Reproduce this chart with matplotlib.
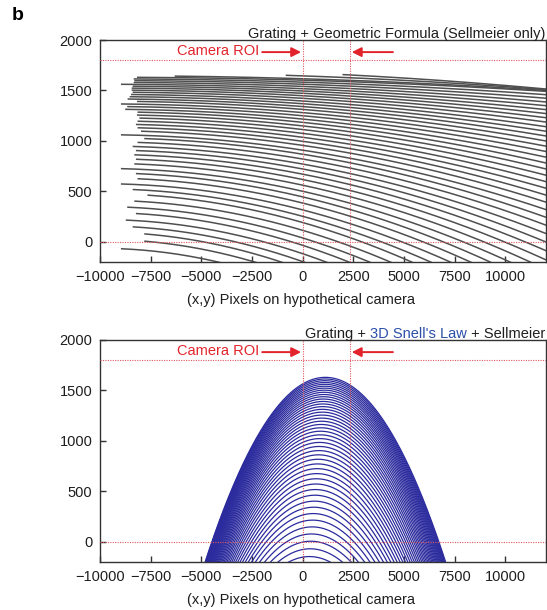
import numpy as np
import matplotlib.pyplot as plt
from matplotlib.offsetbox import TextArea, HPacker, AnchoredOffsetbox

plt.rcParams['font.family'] = ['Liberation Sans', 'DejaVu Sans']
plt.rcParams['font.size'] = 10.5

# top panel: each line starts at (start_x, levels) and ends at x=12000 at end_y
levels = [1630, 1614, 1597, 1579, 1561, 1542, 1523, 1503, 1482, 1460,
          1438, 1415, 1391, 1366, 1340, 1313, 1285, 1256, 1226, 1195,
          1163, 1130, 1096, 1060, 1023, 985, 945, 904, 862, 818,
          772, 725, 676, 625, 573, 518, 462, 403, 343, 280,
          215, 148, 78, 6, -69]
start_x = [-8140, -8300, -8270, -8300, -8930, -8350, -8400, -8400, -8350, -8430,
           -8500, -8600, -8140, -8930, -8620, -8720, -8110, -8140, -8020, -8110,
           -8190, -8110, -7940, -8930, -7780, -8110, -8350, -8190, -8270, -8190,
           -8270, -8930, -8190, -8110, -8930, -8350, -7620, -8270, -8620, -8190,
           -8690, -8350, -7780, -7780, -8930]
end_y = [1491, 1458, 1423, 1386, 1349, 1310, 1271, 1230, 1187, 1141,
         1096, 1049, 999, 948, 895, 839, 781, 722, 660, 596,
         531, 463, 393, 319, 243, 165, 82, -2, -88, -179,
         -273, -370, -471, -575, -682, -795, -911, -1032, -1155, -1285,
         -1418, -1556, -1700, -1848, -2003]
# short segments along the top edge
extra_x0 = [-6280, -800, 2000]
extra_y0 = [1642, 1650, 1657]
extra_end = [1500, 1508, 1514]

# bottom panel: arches (peak height, centre)
arch_peaks = [1630, 1614, 1597, 1579, 1561, 1542, 1523, 1503, 1482, 1460,
              1438, 1415, 1391, 1366, 1340, 1313, 1285, 1256, 1226, 1195,
              1163, 1130, 1096, 1060, 1023, 985, 945, 904, 862, 818,
              772, 725, 676, 625, 573, 518, 462, 403, 343, 280,
              215, 148, 78, 6, -69, -146]
arch_centers = [1117, 1110, 1102, 1094, 1086, 1078, 1069, 1061, 1051, 1042,
                1032, 1022, 1011, 1000, 989, 977, 964, 951, 938, 924,
                910, 896, 881, 865, 848, 832, 814, 796, 777, 758,
                738, 717, 695, 673, 650, 625, 601, 575, 548, 520,
                491, 462, 431, 399, 366, 331]
arch_curv = 5.2e-5

roi_x = [0, 2330]
roi_y = [0, 1800]
xticks = [-10000, -7500, -5000, -2500, 0, 2500, 5000, 7500, 10000]
yticks = [0, 500, 1000, 1500, 2000]

RED = '#e3232b'
TXT = '#1e1e1e'

fig = plt.figure(figsize=(5.47, 6.10), dpi=100)
ax1 = fig.add_axes([100/547, 1 - 262/610, 446/547, 222/610])
ax2 = fig.add_axes([100/547, 1 - 562/610, 446/547, 222/610])


def style(ax):
    ax.set_xlim(-10000, 12000)
    ax.set_ylim(-200, 2000)
    ax.set_xticks(xticks)
    ax.set_yticks(yticks)
    ax.tick_params(direction='in', length=4.5, width=1, color='#333333',
                   labelcolor=TXT, pad=5.5, labelsize=10.5)
    for s in ax.spines.values():
        s.set_color('#333333')
        s.set_linewidth(1.0)
    ax.set_xlabel('(x,y) Pixels on hypothetical camera', color=TXT, fontsize=10.5)
    ax.xaxis.set_label_coords(0.45, -0.14)
    for v in roi_y:
        ax.axhline(v, color='#e05560', lw=0.8, ls=(0, (1, 1.2)), zorder=3)
    for v in roi_x:
        ax.axvline(v, color='#e05560', lw=0.8, ls=(0, (1, 1.2)), zorder=3)
    ax.text(-4170, 1895, 'Camera ROI', color=RED, ha='center', va='center', fontsize=10.5)
    ax.annotate('', xy=(-80, 1880), xytext=(-2000, 1880),
                arrowprops=dict(arrowstyle='-|>', color=RED, lw=1.4,
                                mutation_scale=14, shrinkA=0, shrinkB=0))
    ax.annotate('', xy=(2420, 1880), xytext=(4450, 1880),
                arrowprops=dict(arrowstyle='-|>', color=RED, lw=1.4,
                                mutation_scale=14, shrinkA=0, shrinkB=0))


# top panel lines
for x0, y0, ye in zip(start_x + extra_x0, levels + extra_y0, end_y + extra_end):
    u0 = x0 + 10000
    k = (y0 - ye) / (22000 ** 2 - u0 ** 2)
    xs = np.linspace(x0, 12000, 300)
    ys = y0 - k * ((xs + 10000) ** 2 - u0 ** 2)
    ax1.plot(xs, ys, color='#4f4f4f', lw=1.1)

# bottom panel arches
for h, c in zip(arch_peaks, arch_centers):
    hw = np.sqrt((h + 260) / arch_curv)
    xs = np.linspace(c - hw, c + hw, 500)
    ys = h - arch_curv * (xs - c) ** 2
    ax2.plot(xs, ys, color='#2b2b9e', lw=0.9)

style(ax1)
style(ax2)

ax1.text(0.998, 1.027, 'Grating + Geometric Formula (Sellmeier only)', transform=ax1.transAxes,
         ha='right', va='center', color=TXT, fontsize=10.5)

parts = [TextArea('Grating + ', textprops=dict(color=TXT, fontsize=10.5)),
         TextArea("3D Snell's Law", textprops=dict(color='#2a4fa8', fontsize=10.5)),
         TextArea(' + Sellmeier', textprops=dict(color=TXT, fontsize=10.5))]
box = HPacker(children=parts, align='baseline', pad=0, sep=0)
anch = AnchoredOffsetbox(loc='center right', child=box, pad=0, borderpad=0, frameon=False,
                         bbox_to_anchor=(0.998, 1.028), bbox_transform=ax2.transAxes)
ax2.add_artist(anch)

fig.text(12/547, 1 - 16/610, 'b', fontsize=14, fontweight='bold', ha='left', va='center')

fig.savefig('out.png', dpi=100)
